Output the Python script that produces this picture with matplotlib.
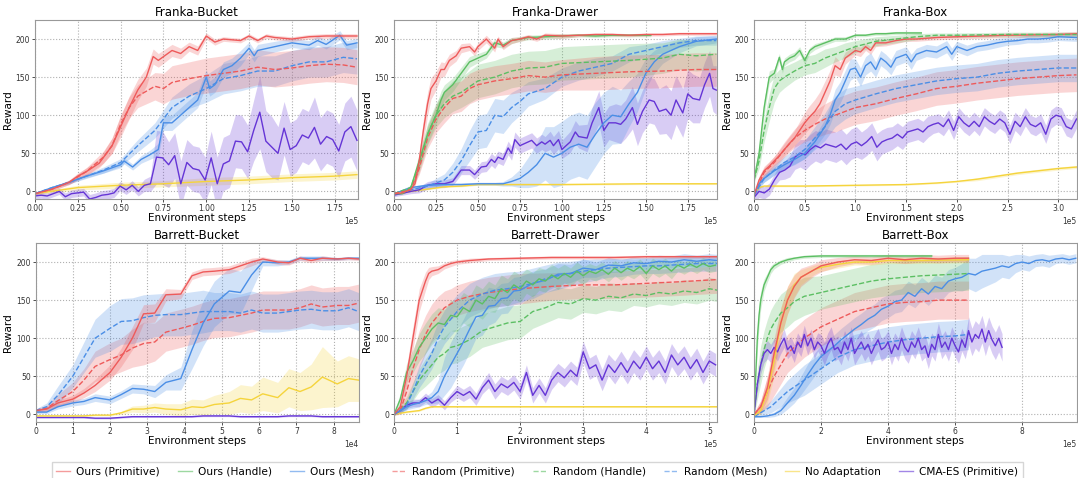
import numpy as np
import matplotlib
matplotlib.use("Agg")
import matplotlib.pyplot as plt
from matplotlib.ticker import MultipleLocator
from matplotlib.lines import Line2D

# ---------------- legend / series names ----------------
series_names = ["Ours (Primitive)", "Ours (Handle)", "Ours (Mesh)", "Random (Primitive)",
                "Random (Handle)", "Random (Mesh)", "No Adaptation", "CMA-ES (Primitive)"]
titles = ["Franka-Bucket", "Franka-Drawer", "Franka-Box",
          "Barrett-Bucket", "Barrett-Drawer", "Barrett-Box"]

# ================= Franka-Bucket (x in 1e5) =================
fb_op_x = [0,0.1,0.2,0.25,0.3,0.375,0.45,0.5,0.55,0.6,0.65,0.69,0.72,0.8,0.85,0.9,0.95,1.0,1.05,1.1,1.2,1.25,1.3,1.35,1.4,1.5,1.6,1.7,1.8,1.88]
fb_op_y = [-3,3,12,20,26,37,60,85,110,133,150,177,172,185,181,190,185,204,196,200,198,204,198,204,202,200,203,204,204,204]
fb_op_s = [1,2,3,4,5,6,10,14,15,14,12,10,9,8,7,6,6,4,4,3,3,3,3,3,3,3,3,3,3,3]

fb_rp_x = [0,0.1,0.2,0.3,0.4,0.45,0.5,0.55,0.6,0.7,0.75,0.8,0.9,1.0,1.1,1.2,1.3,1.4,1.5,1.6,1.7,1.8,1.88]
fb_rp_y = [-3,3,12,26,45,60,88,110,125,138,135,143,148,152,155,158,163,160,162,165,167,166,163]
fb_rp_s = [1,2,3,5,8,10,12,14,15,18,20,22,22,23,23,23,23,23,23,23,23,23,23]

fb_om_x = [0,0.1,0.2,0.3,0.4,0.5,0.52,0.57,0.62,0.67,0.72,0.75,0.8,0.85,0.9,0.95,1.0,1.02,1.05,1.1,1.15,1.2,1.25,1.28,1.3,1.4,1.5,1.6,1.65,1.7,1.78,1.82,1.88]
fb_om_y = [-3,5,12,20,27,35,40,32,42,48,55,90,90,100,110,120,150,135,140,160,165,175,188,178,185,190,195,192,198,193,205,192,195]
fb_om_s = [1,1,2,2,3,4,4,4,5,6,8,10,10,10,10,10,10,10,10,10,10,10,8,8,8,7,6,6,6,6,6,6,6]

fb_rm_x = [0,0.1,0.2,0.3,0.4,0.5,0.6,0.7,0.75,0.8,0.9,1.0,1.1,1.2,1.3,1.4,1.5,1.6,1.7,1.8,1.88]
fb_rm_y = [-3,5,12,20,28,38,60,80,95,110,125,135,148,152,158,158,165,170,170,176,174]
fb_rm_s = [1,1,2,3,4,5,8,10,12,14,16,18,20,20,20,20,20,20,20,20,20]

fb_na_x = [0,0.25,0.5,0.75,1.0,1.25,1.5,1.75,1.88]
fb_na_y = [-3,5,8,10,13,15,18,20,22]
fb_na_s = [2,3,4,4,5,5,5,5,5]

fb_cma_end = 1.88
fb_cma_y = [-6,-5,-6,-3,0,-7,-3,-2,-1,-10, -8,-5,-4,-2,7,2,8,0,8,10,
            45,44,35,47,10,38,30,28,15,44, 10,36,40,66,65,52,80,104,66,58,
            50,83,55,60,74,70,84,62,72,68, 53,78,85,67]
fb_cma_s = [4,4,4,4,4,5,5,5,5,6, 6,6,6,6,6,6,6,6,8,10,
            35,35,30,30,30,30,30,30,30,35, 35,35,35,35,35,35,40,48,40,40,
            35,35,35,35,35,35,40,35,35,35, 35,38,40,40]

# ================= Franka-Drawer (x in 1e5) =================
fd_op_x = [0,0.05,0.1,0.125,0.15,0.175,0.2,0.22,0.25,0.28,0.3,0.33,0.37,0.4,0.45,0.48,0.5,0.55,0.6,0.62,0.65,0.7,0.75,0.8,0.85,0.9,1.0,1.1,1.2,1.3,1.4,1.5,1.6,1.7,1.8,1.92]
fd_op_y = [-3,-2,3,10,40,80,115,135,145,160,160,172,178,188,190,183,190,200,188,200,190,198,200,203,200,205,204,205,206,206,205,206,206,207,207,207]
fd_op_s = [1,1,2,4,10,15,15,14,12,10,9,8,7,6,5,5,5,5,5,4,4,4,3,3,3,3,3,2,2,2,2,2,2,2,2,2]

fd_oh_x = [0,0.05,0.1,0.15,0.2,0.25,0.28,0.3,0.35,0.4,0.45,0.5,0.55,0.6,0.65,0.7,0.75,0.8,0.9,1.0,1.1,1.2,1.3,1.4,1.53]
fd_oh_y = [-3,-3,5,40,75,100,120,130,140,155,170,175,180,195,192,198,200,202,203,204,205,204,205,205,205]
fd_oh_s = [1,1,3,10,12,12,12,10,9,8,7,6,5,5,4,4,3,3,3,3,2,2,2,2,2]

fd_rp_x = [0,0.1,0.15,0.2,0.25,0.3,0.35,0.4,0.45,0.5,0.6,0.7,0.8,0.9,1.0,1.2,1.4,1.6,1.8,1.92]
fd_rp_y = [-3,2,30,70,95,110,122,125,135,140,145,148,152,150,153,155,157,158,160,160]
fd_rp_s = [1,2,8,14,18,20,20,20,20,20,20,20,20,20,20,22,22,22,22,22]

fd_rh_x = [0,0.1,0.15,0.2,0.25,0.3,0.35,0.4,0.5,0.6,0.7,0.8,0.9,1.0,1.2,1.4,1.6,1.7,1.8,1.92]
fd_rh_y = [-3,5,35,75,100,115,125,130,145,150,158,162,163,168,170,172,175,180,178,180]
fd_rh_s = [1,3,10,14,16,18,20,20,22,22,22,22,22,22,22,22,20,20,20,20]

fd_rm_x = [0,0.1,0.2,0.3,0.35,0.4,0.45,0.5,0.55,0.6,0.65,0.7,0.75,0.8,0.9,1.0,1.1,1.2,1.3,1.4,1.5,1.6,1.7,1.8,1.92]
fd_rm_y = [-3,2,7,15,25,40,60,78,80,100,98,110,118,128,135,150,158,163,168,180,185,190,195,198,198]
fd_rm_s = [1,2,4,8,12,16,20,22,22,22,22,20,18,16,14,12,12,12,10,10,8,8,6,6,6]

fd_om_x = [0,0.1,0.2,0.3,0.4,0.5,0.6,0.65,0.7,0.75,0.8,0.85,0.9,0.95,1.0,1.05,1.1,1.15,1.2,1.25,1.3,1.35,1.4,1.45,1.5,1.55,1.6,1.7,1.8,1.92]
fd_om_y = [-3,5,8,9,9,10,10,10,13,17,25,35,50,45,50,58,62,58,75,90,100,98,115,130,155,170,180,190,197,200]
fd_om_s = [1,2,2,2,2,2,2,3,6,12,20,28,35,40,42,42,42,42,42,40,38,35,30,25,20,15,12,8,6,5]

fd_na_x = [0,0.1,0.2,0.3,0.4,0.5,0.6,0.8,1.0,1.5,1.92]
fd_na_y = [-3,0,3,6,7,9,9,9,9,10,10]
fd_na_s = [1,1,1,1,1,1,1,1,1,1,1]

fd_cma_x = [0,0.1,0.15,0.2,0.25,0.3,0.35,0.4,0.45,0.48,0.52,0.55,0.58,0.6,0.62,0.65,0.68,0.7,0.72,0.75,
            0.78,0.82,0.85,0.88,0.9,0.93,0.95,0.98,1.0,1.05,1.08,1.1,1.15,1.18,1.22,1.25,1.28,1.32,1.35,1.38,
            1.42,1.45,1.48,1.52,1.55,1.58,1.62,1.65,1.68,1.72,1.75,1.78,1.82,1.85,1.88,1.9,1.92]
fd_cma_y = [-5,0,2,8,10,10,13,28,28,22, 32,33,42,38,45,42,57,50,68,60,
            63,67,60,65,62,67,60,68,55,65, 78,72,70,90,110,80,90,90,88,95,
            110,88,105,120,118,105,108,100,120,103, 128,122,120,140,155,135,133]
fd_cma_s = [2,3,4,5,5,5,5,6,6,6, 7,7,8,8,8,8,9,9,10,10,
            10,10,10,10,10,12,12,12,12,14, 15,15,18,20,22,22,22,25,25,25,
            28,28,28,30,30,30,32,32,32,32, 32,32,30,30,30,30,32]

# ================= Franka-Box (x in 1e5) =================
fx_oh_x = [0,0.05,0.1,0.15,0.2,0.25,0.28,0.3,0.35,0.4,0.45,0.5,0.55,0.6,0.7,0.8,0.9,1.0,1.1,1.2,1.3,1.4,1.5,1.65]
fx_oh_y = [15,50,110,150,155,176,160,170,175,178,185,172,185,190,195,200,200,205,205,207,207,208,208,208]
fx_oh_s = [3,8,10,8,6,5,5,5,5,5,5,5,4,4,3,3,3,2,2,2,2,2,2,2]

fx_rh_x = [0,0.05,0.1,0.15,0.2,0.25,0.3,0.4,0.5,0.6,0.7,0.8,0.9,1.0,1.2,1.4,1.6,1.8,2.0,2.5,3.0,3.18]
fx_rh_y = [15,40,80,110,135,145,150,158,165,168,175,180,185,190,197,200,203,205,205,206,206,206]
fx_rh_s = [3,10,15,18,18,15,14,12,12,12,12,10,10,8,6,5,4,3,3,3,3,3]

fx_op_x = [0,0.05,0.1,0.15,0.2,0.25,0.3,0.35,0.4,0.45,0.5,0.55,0.6,0.65,0.7,0.75,0.8,0.85,0.9,0.95,1.0,1.05,1.1,1.15,1.2,1.3,1.4,1.5,1.6,1.8,2.0,2.5,3.0,3.18]
fx_op_y = [-5,15,27,33,40,47,55,63,70,80,90,98,105,115,130,145,165,160,175,180,185,183,190,185,195,195,198,200,200,202,203,205,206,207]
fx_op_s = [2,5,6,6,6,7,8,9,10,12,14,15,16,16,15,14,12,10,8,7,6,6,5,5,5,4,4,3,3,3,3,3,3,3]

fx_rp_x = [0,0.1,0.2,0.3,0.4,0.5,0.6,0.7,0.8,0.9,1.0,1.2,1.4,1.6,1.8,2.0,2.2,2.4,2.6,2.8,3.0,3.18]
fx_rp_y = [-5,25,38,55,70,80,88,95,100,105,110,115,122,128,135,138,142,145,148,150,152,153]
fx_rp_s = [2,6,8,10,12,15,18,20,22,22,22,22,22,22,22,22,22,22,22,22,22,22]

fx_om_x = [0,0.05,0.1,0.2,0.3,0.4,0.5,0.6,0.7,0.75,0.8,0.85,0.9,0.95,1.0,1.05,1.1,1.15,1.2,1.25,
           1.3,1.35,1.4,1.5,1.55,1.6,1.7,1.8,1.9,1.95,2.0,2.1,2.2,2.3,2.4,2.5,2.6,2.7,2.8,2.9,3.0,3.18]
fx_om_y = [-5,10,17,27,35,42,50,65,85,100, 120,130,145,160,162,150,165,170,160,175,
           170,163,175,180,170,180,185,183,190,180, 190,185,190,192,195,197,198,200,200,201, 203,202]
fx_om_s = [2,4,5,5,5,6,7,8,10,12, 14,14,14,14,12,12,12,12,10,10,
           10,10,10,10,10,8,8,8,8,8, 7,7,6,6,6,5,5,5,5,5, 5,5]

fx_rm_x = [0,0.1,0.2,0.3,0.4,0.5,0.6,0.7,0.8,0.9,1.0,1.2,1.4,1.6,1.8,2.0,2.2,2.4,2.6,2.8,3.0,3.18]
fx_rm_y = [-5,17,28,38,45,55,70,85,105,115,120,128,135,140,145,148,150,155,158,160,162,162]
fx_rm_s = [2,5,7,8,10,12,15,18,20,20,18,18,18,18,18,18,18,18,18,18,18,18]

fx_na_x = [0,0.05,0.1,0.5,1.0,1.5,1.8,2.0,2.2,2.4,2.6,2.8,3.0,3.18]
fx_na_y = [-3,5,7,7,8,9,11,13,16,20,24,27,30,32]
fx_na_s = [1,1,1,1,1,1,1,1,2,2,2,2,2,2]

fx_cma_end = 3.18
fx_cma_y = [-8,0,-2,3,15,25,28,33,45,50, 48,55,60,57,62,60,58,62,55,62,
            65,60,65,72,58,65,68,70,75,70, 78,80,82,78,85,88,90,85,95,80,
            98,90,85,92,85,98,92,88,95,90, 75,92,85,98,88,85,90,75,95,100,
            98,85,82,95]
fx_cma_s = [6,8,8,8,8,10,12,14,16,18, 20,20,20,20,20,20,20,20,20,20,
            20,18,18,18,18,16,16,15,15,15, 14,14,14,14,14,12,12,12,12,12,
            12,12,12,12,12,12,12,12,12,12, 12,12,12,12,12,12,12,12,12,12,
            12,12,12,12]

# ================= Barrett-Bucket (x in 1e4) =================
bb_x = [0,0.3,0.6,1.0,1.3,1.6,2.0,2.3,2.6,2.9,3.2,3.5,3.9,4.2,4.5,4.8,5.2,5.5,5.8,6.1,6.5,6.8,7.1,7.4,7.7,8.1,8.4,8.67]
bb_op_y = [5,7,15,20,28,38,55,75,100,132,133,157,158,182,187,188,190,195,200,204,200,199,205,202,205,204,205,204]
bb_op_s = [2,3,4,5,6,8,10,12,15,12,12,8,6,5,5,5,5,5,5,3,3,3,3,3,3,2,2,2]
bb_om_y = [3,3,10,15,17,22,19,26,34,33,30,42,47,85,120,145,162,160,183,200,199,200,205,205,205,204,205,205]
bb_om_s = [2,2,3,4,4,5,5,5,6,6,8,10,15,25,30,30,30,28,20,5,4,3,3,3,3,2,2,2]
bb_rp_y = [5,8,18,30,45,63,72,78,87,93,95,108,113,117,122,126,127,130,133,137,137,137,140,145,141,143,143,146]
bb_rp_s = [2,4,8,12,15,20,22,22,25,28,25,25,25,25,25,25,25,25,25,25,25,25,25,25,25,25,25,25]
bb_rm_y = [5,10,25,50,75,100,113,122,123,127,130,131,131,133,135,135,135,133,137,133,133,135,137,138,136,136,140,135]
bb_rm_s = [2,5,12,15,20,25,30,30,30,30,28,28,28,28,28,25,25,25,25,25,25,25,25,25,25,25,25,25]
bb_na_y = [-2,-2,-2,-2,-2,-1,-1,2,7,7,9,7,6,10,9,13,15,21,19,27,22,35,30,36,49,40,47,45]
bb_na_s = [1,1,1,1,1,1,1,2,4,5,6,7,8,10,10,12,15,18,18,22,20,25,25,30,40,30,30,28]
bb_cma_y = [-4,-4,-4,-4,-4,-5,-5,-4,-3,-3,-3,-3,-3,-3,-2,-2,-2,-3,-3,-3,-3,-2,-2,-2,-3,-3,-3,-3]
bb_cma_s = [1,1,1,1,1,1,1,1,1,1,1,1,1,1,1,1,1,1,1,1,1,1,1,1,1,1,1,1]

# ================= Barrett-Drawer (x in 1e5) =================
bd_op_x = [0,0.1,0.2,0.3,0.4,0.5,0.55,0.6,0.7,0.8,0.9,1.0,1.2,1.5,2.0,2.5,3.0,3.5,4.0,4.5,5.13]
bd_op_y = [0,10,50,100,150,175,185,188,190,195,198,200,202,204,205,206,206,206,207,207,207]
bd_op_s = [1,5,12,15,15,12,8,6,5,4,4,3,3,2,2,2,2,2,2,2,2]

bd_rp_x = [0,0.1,0.2,0.3,0.4,0.5,0.6,0.7,0.8,0.9,1.0,1.2,1.5,2.0,2.5,3.0,3.5,4.0,4.5,5.13]
bd_rp_y = [0,5,30,60,85,105,120,130,140,145,150,155,160,165,168,170,170,172,174,177]
bd_rp_s = [1,5,15,22,25,25,25,25,22,20,20,20,20,20,18,18,18,18,18,18]

bd_oh_end = 5.1
bd_oh_y = [0,20,55,70,88,100,112,120,118,130, 128,140,135,150,145,155,152,165,160,170,
           165,175,170,178,175,183,178,185,180,188, 182,188,185,190,184,192,186,192,188,194,
           185,195,190,195,188,196,192,197,193,198, 194,196]
bd_oh_s = [1,8,12,15,18,20,20,20,20,20, 20,20,20,20,20,20,18,18,18,18,
           18,16,16,15,15,14,14,12,12,12, 12,10,10,10,10,10,10,10,10,10,
           10,10,10,10,10,8,8,8,8,8, 8,8]

bd_rh_x = [0,0.2,0.3,0.4,0.5,0.6,0.7,0.8,0.9,1.0,1.2,1.4,1.6,1.8,2.0,2.2,2.4,2.6,2.8,3.0,3.2,3.4,3.6,3.8,4.0,4.2,4.4,4.6,4.8,5.0,5.13]
bd_rh_y = [0,15,30,45,55,65,75,80,88,90,98,110,115,120,122,135,140,147,145,152,150,155,153,158,156,160,158,162,160,165,163]
bd_rh_s = [1,8,12,15,18,20,22,22,22,22,22,22,22,22,22,22,20,20,20,18,18,18,18,15,15,15,15,15,15,15,15]

bd_om_x = [0,0.1,0.2,0.3,0.4,0.5,0.6,0.7,0.8,0.9,1.0,1.1,1.2,1.3,1.4,1.5,1.6,1.7,1.8,1.9,2.0,2.2,2.4,2.6,2.8,3.0,3.2,3.4,3.6,3.8,4.0,4.2,4.4,4.6,4.8,5.0,5.13]
bd_om_y = [0,5,10,13,15,18,22,30,50,65,80,95,112,128,130,142,143,152,153,162,163,172,176,184,185,192,190,196,195,199,198,201,200,203,201,203,202]
bd_om_s = [1,3,4,5,5,5,8,15,25,30,30,30,30,28,26,25,22,20,20,18,18,16,15,14,12,12,10,10,8,8,8,8,8,8,8,8,8]

bd_rm_x = [0,0.1,0.2,0.3,0.4,0.5,0.6,0.7,0.8,0.9,1.0,1.2,1.4,1.6,1.8,2.0,2.2,2.4,2.6,2.8,3.0,3.2,3.4,3.6,3.8,4.0,4.2,4.4,4.6,4.8,5.0,5.13]
bd_rm_y = [0,5,12,30,50,65,80,100,115,125,135,150,158,163,165,168,172,178,182,185,188,190,192,193,194,195,195,196,197,198,198,198]
bd_rm_s = [1,3,6,10,15,18,20,22,22,22,22,22,22,22,22,20,20,18,18,16,15,14,12,12,10,10,10,10,10,10,10,10]

bd_na_x = [0,0.2,0.4,0.5,0.6,0.7,1.0,2.0,3.0,4.0,5.13]
bd_na_y = [0,3,5,8,10,10,10,10,10,10,10]
bd_na_s = [1,1,1,1,1,1,1,1,1,1,1]

bd_cma_end = 5.1
bd_cma_y = [0,5,12,15,15,22,15,20,12,22, 30,25,30,20,35,45,30,40,35,42,
            30,55,25,38,25,45,55,48,58,50, 82,60,65,45,65,55,68,55,70,60,
            75,60,70,55,78,65,75,60,72,55, 70,65]
bd_cma_s = [1,3,4,5,5,6,6,6,6,6, 8,8,8,8,8,10,10,10,10,10,
            10,10,10,10,10,12,12,12,12,12, 14,14,14,14,14,15,15,15,15,15,
            15,15,15,15,15,15,15,15,15,15, 15,15]

# ================= Barrett-Box (x in 1e5) =================
bx_oh_x = [0,0.1,0.15,0.2,0.3,0.4,0.5,0.6,0.8,1.0,1.2,1.5,2.0,2.5,3.0,4.0,5.3]
bx_oh_y = [0,100,130,150,170,180,190,195,200,203,205,207,208,208,208,208,208]
bx_oh_s = [2,15,15,12,8,6,5,4,3,3,2,2,2,2,2,2,2]

bx_rh_x = [0,0.1,0.2,0.3,0.4,0.5,0.6,0.8,1.0,1.2,1.5,2.0,2.5,3.0,3.5,4.0,4.5,5.0,5.5,6.0,6.4]
bx_rh_y = [0,40,65,85,100,112,120,133,140,148,155,160,165,170,175,178,180,182,183,184,185]
bx_rh_s = [2,20,25,25,25,25,25,25,25,25,25,22,22,22,22,22,22,22,22,22,22]

bx_op_x = [0,0.2,0.4,0.6,0.8,1.0,1.2,1.4,1.6,1.8,2.0,2.5,3.0,3.5,4.0,4.5,5.0,5.5,6.0,6.4]
bx_op_y = [0,10,35,80,120,150,168,180,185,190,195,200,203,202,205,203,205,204,205,205]
bx_op_s = [2,8,15,20,20,18,15,12,10,8,8,6,5,5,5,5,5,5,5,5]

bx_rp_x = [0,0.2,0.4,0.6,0.8,1.0,1.5,2.0,2.5,3.0,3.5,4.0,4.5,5.0,5.5,6.0,6.4]
bx_rp_y = [0,10,30,50,65,80,100,115,125,135,140,145,147,148,150,150,150]
bx_rp_s = [2,8,20,25,25,25,25,25,25,25,25,25,25,25,25,25,25]

bx_na_x = [0,0.2,0.4,0.6,0.8,1.0,1.2,1.4,1.6,1.8,2.0,2.5,3.0,3.5,4.0,5.0,6.4]
bx_na_y = [-2,5,30,70,120,150,170,180,185,190,193,197,200,200,202,202,203]
bx_na_s = [1,5,15,20,20,18,15,10,8,6,5,5,4,4,4,4,4]

bx_om_end = 9.6
bx_om_y = [-3,-3,-2,0,5,15,25,38,52,65, 76,83,90,98,105,112,118,125,130,138,
           142,148,150,160,155,165,158,168,165,175, 178,180,185,183,188,190,192,195,193,198,
           200,198,202,203,201,204,205,203,205]
bx_om_s = [1,1,2,3,5,8,10,12,14,15, 15,15,15,15,15,15,15,15,15,15,
           15,15,15,15,15,15,15,15,15,15, 15,18,20,22,22,20,18,15,15,12,
           10,10,8,8,8,6,6,6,6]

bx_rm_x = [0,0.5,1.0,1.5,2.0,2.5,3.0,3.5,4.0,4.5,5.0,5.5,6.0,6.4]
bx_rm_y = [-3,10,30,45,60,75,85,90,95,98,100,102,103,105]
bx_rm_s = [1,8,15,20,20,20,20,20,20,20,20,20,20,20]

bx_cma_end = 7.4
bx_cma_y = [0,40,65,80,85,80,88,82,92,100, 85,90,80,95,88,105,90,100,85,95,
            90,80,92,100,85,88,80,95,85,100, 80,88,95,85,92,80,90,98,85,88,
            95,80,92,85,100,88,82,95,88,100, 85,90,75,92,85,105,88,95,85,100,
            90,82,98,88,110,95,105,100,112,95, 110,98,90,100,88]
bx_cma_s = [2,10,12,12,12,12,12,12,12,12, 12,12,12,12,12,12,12,12,12,12,
            15,15,15,15,15,15,15,15,15,15, 15,15,15,15,15,15,15,15,15,15,
            15,15,15,15,15,15,15,15,15,15, 15,15,15,15,15,15,15,15,15,15,
            15,15,15,15,18,18,18,18,18,18, 18,18,18,18,18]

# ---------------- styles ----------------
C_RED = "#ee5a5a"
C_GREEN = "#5cbf63"
C_BLUE = "#4a8ee6"
C_YELLOW = "#f5d43c"
C_PURPLE = "#6535d6"
series_colors = [C_RED, C_GREEN, C_BLUE, C_RED, C_GREEN, C_BLUE, C_YELLOW, C_PURPLE]
series_styles = ["-", "-", "-", "--", "--", "--", "-", "-"]

plt.rcParams["font.family"] = ["DejaVu Sans"]
fig = plt.figure(figsize=(10.78, 4.78), dpi=100)

rects = [
    (35 / 1078, 1 - 199 / 478, 323 / 1078, 179 / 478),
    (394 / 1078, 1 - 199 / 478, 323.5 / 1078, 179 / 478),
    (754 / 1078, 1 - 199 / 478, 322.5 / 1078, 179 / 478),
    (35.5 / 1078, 1 - 422 / 478, 323 / 1078, 179 / 478),
    (394 / 1078, 1 - 422 / 478, 323.5 / 1078, 179 / 478),
    (754 / 1078, 1 - 422 / 478, 322.5 / 1078, 179 / 478),
]
xmaxes = [1.886e5, 1.927e5, 3.18e5, 8.67e4, 5.13e5, 9.62e5]
xsteps = [0.25e5, 0.25e5, 0.5e5, 1e4, 1e5, 2e5]


def draw(ax, x, y, s, idx, scale):
    x = np.asarray(x, float) * scale
    y = np.asarray(y, float)
    s = np.asarray(s, float)
    col = series_colors[idx]
    ax.fill_between(x, y - s, y + s, color=col, alpha=0.25, linewidth=0)
    ax.plot(x, y, color=col, ls=series_styles[idx], lw=1.0)


axes = [fig.add_axes(r) for r in rects]

# Franka-Bucket
a = axes[0]
draw(a, fb_na_x, fb_na_y, fb_na_s, 6, 1e5)
draw(a, np.linspace(0, fb_cma_end, len(fb_cma_y)), fb_cma_y, fb_cma_s, 7, 1e5)
draw(a, fb_rm_x, fb_rm_y, fb_rm_s, 5, 1e5)
draw(a, fb_rp_x, fb_rp_y, fb_rp_s, 3, 1e5)
draw(a, fb_om_x, fb_om_y, fb_om_s, 2, 1e5)
draw(a, fb_op_x, fb_op_y, fb_op_s, 0, 1e5)

# Franka-Drawer
a = axes[1]
draw(a, fd_na_x, fd_na_y, fd_na_s, 6, 1e5)
draw(a, fd_cma_x, fd_cma_y, fd_cma_s, 7, 1e5)
draw(a, fd_rm_x, fd_rm_y, fd_rm_s, 5, 1e5)
draw(a, fd_om_x, fd_om_y, fd_om_s, 2, 1e5)
draw(a, fd_rh_x, fd_rh_y, fd_rh_s, 4, 1e5)
draw(a, fd_rp_x, fd_rp_y, fd_rp_s, 3, 1e5)
draw(a, fd_oh_x, fd_oh_y, fd_oh_s, 1, 1e5)
draw(a, fd_op_x, fd_op_y, fd_op_s, 0, 1e5)

# Franka-Box
a = axes[2]
draw(a, fx_na_x, fx_na_y, fx_na_s, 6, 1e5)
draw(a, np.linspace(0, fx_cma_end, len(fx_cma_y)), fx_cma_y, fx_cma_s, 7, 1e5)
draw(a, fx_rp_x, fx_rp_y, fx_rp_s, 3, 1e5)
draw(a, fx_rm_x, fx_rm_y, fx_rm_s, 5, 1e5)
draw(a, fx_om_x, fx_om_y, fx_om_s, 2, 1e5)
draw(a, fx_op_x, fx_op_y, fx_op_s, 0, 1e5)
draw(a, fx_rh_x, fx_rh_y, fx_rh_s, 4, 1e5)
draw(a, fx_oh_x, fx_oh_y, fx_oh_s, 1, 1e5)

# Barrett-Bucket
a = axes[3]
draw(a, bb_x, bb_cma_y, bb_cma_s, 7, 1e4)
draw(a, bb_x, bb_na_y, bb_na_s, 6, 1e4)
draw(a, bb_x, bb_rp_y, bb_rp_s, 3, 1e4)
draw(a, bb_x, bb_rm_y, bb_rm_s, 5, 1e4)
draw(a, bb_x, bb_om_y, bb_om_s, 2, 1e4)
draw(a, bb_x, bb_op_y, bb_op_s, 0, 1e4)

# Barrett-Drawer
a = axes[4]
draw(a, bd_na_x, bd_na_y, bd_na_s, 6, 1e5)
draw(a, np.linspace(0, bd_cma_end, len(bd_cma_y)), bd_cma_y, bd_cma_s, 7, 1e5)
draw(a, bd_rh_x, bd_rh_y, bd_rh_s, 4, 1e5)
draw(a, bd_rp_x, bd_rp_y, bd_rp_s, 3, 1e5)
draw(a, bd_rm_x, bd_rm_y, bd_rm_s, 5, 1e5)
draw(a, bd_om_x, bd_om_y, bd_om_s, 2, 1e5)
draw(a, np.linspace(0, bd_oh_end, len(bd_oh_y)), bd_oh_y, bd_oh_s, 1, 1e5)
draw(a, bd_op_x, bd_op_y, bd_op_s, 0, 1e5)

# Barrett-Box
a = axes[5]
draw(a, bx_rm_x, bx_rm_y, bx_rm_s, 5, 1e5)
draw(a, np.linspace(0, bx_om_end, len(bx_om_y)), bx_om_y, bx_om_s, 2, 1e5)
draw(a, bx_rp_x, bx_rp_y, bx_rp_s, 3, 1e5)
draw(a, bx_rh_x, bx_rh_y, bx_rh_s, 4, 1e5)
draw(a, np.linspace(0, bx_cma_end, len(bx_cma_y)), bx_cma_y, bx_cma_s, 7, 1e5)
draw(a, bx_na_x, bx_na_y, bx_na_s, 6, 1e5)
draw(a, bx_op_x, bx_op_y, bx_op_s, 0, 1e5)
draw(a, bx_oh_x, bx_oh_y, bx_oh_s, 1, 1e5)

for i, ax in enumerate(axes):
    ax.set_xlim(0, xmaxes[i])
    ax.set_ylim(-10, 225)
    ax.xaxis.set_major_locator(MultipleLocator(xsteps[i]))
    ax.yaxis.set_major_locator(MultipleLocator(50))
    ax.ticklabel_format(axis="x", style="sci", scilimits=(0, 0), useMathText=False)
    ax.grid(True, ls=":", color="#b0b0b0", lw=0.8)
    ax.set_axisbelow(True)
    ax.tick_params(labelsize=5.5, length=2, width=0.6, pad=1.5, colors="#333333")
    ax.xaxis.get_offset_text().set_fontsize(5.5)
    for sp in ax.spines.values():
        sp.set_color("#999999")
        sp.set_linewidth(0.8)
    ax.set_title(titles[i], fontsize=8.5, pad=3)
    ax.set_xlabel("Environment steps", fontsize=7.5, labelpad=0)
    ax.set_ylabel("Reward", fontsize=7.5, labelpad=2)

handles = [Line2D([0], [0], color=series_colors[k], ls=series_styles[k], lw=1.0, alpha=0.6)
           for k in range(8)]
fig.legend(handles, series_names, loc="lower center", bbox_to_anchor=(0.4985, -0.018),
           ncol=8, fontsize=7.6, frameon=True, handlelength=1.3, columnspacing=1.7,
           handletextpad=0.6, borderpad=0.45, edgecolor="#cccccc", fancybox=False)

fig.savefig("out.png", dpi=100)
